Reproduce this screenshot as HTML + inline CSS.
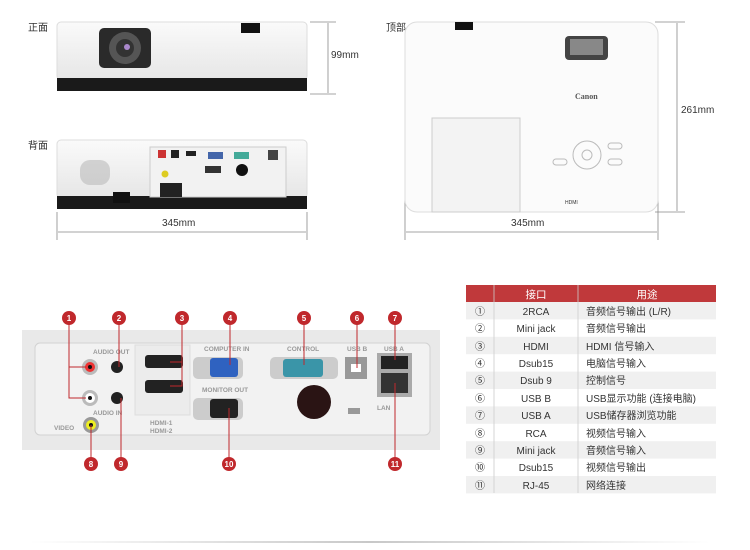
<!DOCTYPE html>
<html><head><meta charset="utf-8"><style>
html,body{margin:0;padding:0;background:#fff;}
svg{display:block;font-family:"Liberation Sans","Noto Sans CJK SC",sans-serif;}
</style></head><body>
<svg width="750" height="550" viewBox="0 0 750 550" xmlns="http://www.w3.org/2000/svg">
<defs>
<linearGradient id="wg" x1="0" y1="0" x2="0" y2="1"><stop offset="0" stop-color="#fafafa"/><stop offset="1" stop-color="#e6e6e6"/></linearGradient>
<linearGradient id="bl" x1="0" x2="1"><stop offset="0" stop-color="#fff"/><stop offset="0.5" stop-color="#c8c8c8"/><stop offset="1" stop-color="#fff"/></linearGradient>
</defs>
<g font-size="10" fill="#333">
<text x="28" y="31">正面</text><text x="28" y="149">背面</text><text x="386" y="31">顶部</text>
</g>
<!-- front -->
<rect x="57" y="22" width="250" height="58" rx="4" fill="url(#wg)" stroke="#ddd"/>
<rect x="57" y="78" width="250" height="13" fill="#1a1a1a"/>
<rect x="99" y="28" width="52" height="40" rx="5" fill="#2a2a2a"/>
<circle cx="125" cy="48" r="16" fill="#555"/><circle cx="125" cy="48" r="9" fill="#333"/><circle cx="127" cy="47" r="3" fill="#a8c"/>
<rect x="241" y="23" width="19" height="10" fill="#111"/>
<!-- dims front -->
<g stroke="#888" stroke-width="0.8" fill="none">
<line x1="310" y1="22" x2="336" y2="22"/><line x1="310" y1="94" x2="336" y2="94"/><line x1="328" y1="23" x2="328" y2="93"/>
<line x1="57" y1="212" x2="57" y2="240"/><line x1="307" y1="212" x2="307" y2="240"/><line x1="58" y1="232" x2="306" y2="232"/>
<line x1="405" y1="195" x2="405" y2="240"/><line x1="658" y1="195" x2="658" y2="240"/><line x1="406" y1="232" x2="657" y2="232"/>
<line x1="655" y1="22" x2="685" y2="22"/><line x1="655" y1="212" x2="685" y2="212"/><line x1="677" y1="23" x2="677" y2="211"/>
</g>
<g fill="#333" font-size="10"><text x="331" y="58">99mm</text><text x="162" y="226">345mm</text><text x="511" y="226">345mm</text><text x="681" y="113">261mm</text></g>
<!-- back -->
<rect x="57" y="140" width="250" height="58" rx="4" fill="url(#wg)" stroke="#ddd"/>
<rect x="57" y="196" width="250" height="13" fill="#1a1a1a"/>
<rect x="150" y="147" width="136" height="50" fill="#f2f2f2" stroke="#ccc"/>
<rect x="80" y="160" width="30" height="25" rx="10" fill="#bbb" opacity="0.6"/>
<rect x="158" y="150" width="8" height="8" fill="#c33"/><rect x="171" y="150" width="8" height="8" fill="#222"/><rect x="186" y="151" width="10" height="5" fill="#222"/><rect x="208" y="152" width="15" height="7" fill="#46a"/><rect x="234" y="152" width="15" height="7" fill="#4a9"/><rect x="268" y="150" width="10" height="10" fill="#444"/>
<circle cx="242" cy="170" r="6" fill="#111"/><rect x="205" y="166" width="16" height="7" fill="#333"/><circle cx="165" cy="174" r="3.5" fill="#dc2"/>
<rect x="160" y="183" width="22" height="14" fill="#222"/><rect x="113" y="192" width="17" height="11" fill="#111"/>
<!-- top -->
<rect x="405" y="22" width="253" height="190" rx="12" fill="#fbfbfb" stroke="#ddd"/>
<rect x="455" y="22" width="18" height="8" fill="#111"/>
<rect x="565" y="36" width="43" height="24" rx="4" fill="#444"/><rect x="570" y="39" width="33" height="16" fill="#888"/>
<text x="575" y="99" font-size="8" font-weight="bold" fill="#555" font-family="Liberation Serif,serif">Canon</text>
<rect x="432" y="118" width="88" height="94" fill="#f3f3f3" stroke="#ccc"/>
<circle cx="587" cy="155" r="14" fill="none" stroke="#bbb"/><circle cx="587" cy="155" r="5" fill="none" stroke="#bbb"/>
<rect x="553" y="159" width="14" height="6" rx="3" fill="none" stroke="#bbb"/><rect x="608" y="159" width="14" height="6" rx="3" fill="none" stroke="#bbb"/><rect x="608" y="143" width="14" height="6" rx="3" fill="none" stroke="#bbb"/>
<text x="565" y="204" font-size="5" fill="#333">HDMI</text>
<!-- port photo -->
<rect x="22" y="330" width="418" height="120" fill="#e9e9e9"/>
<rect x="35" y="343" width="395" height="92" rx="5" fill="#f2f2f2" stroke="#d2d2d2"/>
<rect x="135" y="345" width="55" height="70" fill="#ececec" stroke="#ddd"/>
<circle cx="90" cy="367" r="8" fill="#bbb"/><circle cx="90" cy="367" r="5" fill="#e33"/><circle cx="90" cy="367" r="2" fill="#111"/>
<circle cx="90" cy="398" r="8" fill="#bbb"/><circle cx="90" cy="398" r="5" fill="#fff"/><circle cx="90" cy="398" r="2" fill="#111"/>
<circle cx="91" cy="425" r="8" fill="#999"/><circle cx="91" cy="425" r="5" fill="#ee2"/><circle cx="91" cy="425" r="2" fill="#111"/>
<circle cx="117" cy="367" r="6" fill="#222"/><circle cx="117" cy="398" r="6" fill="#222"/>
<rect x="145" y="355" width="38" height="13" rx="3" fill="#222"/><rect x="145" y="380" width="38" height="13" rx="3" fill="#222"/>
<rect x="193" y="357" width="50" height="22" rx="5" fill="#ccc"/><rect x="210" y="358" width="28" height="19" rx="3" fill="#2f62c0"/>
<rect x="193" y="398" width="50" height="22" rx="5" fill="#ccc"/><rect x="210" y="399" width="28" height="19" rx="3" fill="#222"/>
<rect x="270" y="357" width="68" height="22" rx="5" fill="#ccc"/><rect x="283" y="359" width="40" height="18" rx="3" fill="#3a95a8"/>
<rect x="345" y="357" width="22" height="22" fill="#999"/><rect x="351" y="364" width="10" height="8" fill="#fff"/>
<rect x="377" y="353" width="35" height="44" fill="#aaa"/><rect x="381" y="356" width="27" height="13" fill="#222"/><rect x="381" y="373" width="27" height="20" fill="#333"/>
<circle cx="314" cy="402" r="17" fill="#2a1414"/><rect x="348" y="408" width="12" height="6" fill="#999"/>
<g font-size="6.5" font-weight="bold" fill="#999">
<text x="93" y="354">AUDIO OUT</text><text x="93" y="415">AUDIO IN</text><text x="54" y="430">VIDEO</text><text x="150" y="425">HDMI-1</text><text x="150" y="433">HDMI-2</text>
<text x="204" y="351">COMPUTER IN</text><text x="202" y="392">MONITOR OUT</text><text x="287" y="351">CONTROL</text><text x="347" y="351">USB B</text><text x="384" y="351">USB A</text><text x="377" y="410">LAN</text></g>
<g stroke="#c0282c" stroke-width="1" fill="none">
<polyline points="69,318 69,367 86,367"/><polyline points="69,367 69,398 86,398"/>
<line x1="119" y1="318" x2="119" y2="367"/><polyline points="182,318 182,362 170,362"/><polyline points="182,362 182,386 170,386"/>
<line x1="230" y1="318" x2="230" y2="365"/><line x1="304" y1="318" x2="304" y2="365"/><line x1="357" y1="318" x2="357" y2="368"/><line x1="395" y1="318" x2="395" y2="360"/>
<line x1="91" y1="425" x2="91" y2="464"/><line x1="121" y1="398" x2="121" y2="464"/><line x1="229" y1="408" x2="229" y2="464"/><line x1="395" y1="383" x2="395" y2="464"/>
</g>
<g fill="#c0282c"><circle cx="69" cy="318" r="7"/><circle cx="119" cy="318" r="7"/><circle cx="182" cy="318" r="7"/><circle cx="230" cy="318" r="7"/><circle cx="304" cy="318" r="7"/><circle cx="357" cy="318" r="7"/><circle cx="395" cy="318" r="7"/><circle cx="91" cy="464" r="7"/><circle cx="121" cy="464" r="7"/><circle cx="229" cy="464" r="7"/><circle cx="395" cy="464" r="7"/></g>
<g fill="#fff" font-size="8" font-weight="bold" text-anchor="middle"><text x="69" y="321">1</text><text x="119" y="321">2</text><text x="182" y="321">3</text><text x="230" y="321">4</text><text x="304" y="321">5</text><text x="357" y="321">6</text><text x="395" y="321">7</text><text x="91" y="467">8</text><text x="121" y="467">9</text><text x="229" y="467">10</text><text x="395" y="467">11</text></g>
<!-- table -->
<rect x="466" y="285" width="250" height="17" fill="#c0393b"/>
<g fill="#f0f0f0"><rect x="466" y="302" width="250" height="17.4"/><rect x="466" y="336.8" width="250" height="17.4"/><rect x="466" y="371.6" width="250" height="17.4"/><rect x="466" y="406.4" width="250" height="17.4"/><rect x="466" y="441.2" width="250" height="17.4"/><rect x="466" y="476" width="250" height="17.4"/></g>
<g stroke="#ccc" stroke-width="0.8"><line x1="494" y1="285" x2="494" y2="493"/><line x1="578" y1="285" x2="578" y2="493"/></g>
<g fill="#fff" font-size="10.5" text-anchor="middle"><text x="536" y="298">接口</text><text x="647" y="298">用途</text></g>
<g font-size="10" fill="#333">
<g text-anchor="middle"><text x="480" y="315">①</text><text x="480" y="332">②</text><text x="480" y="350">③</text><text x="480" y="367">④</text><text x="480" y="384">⑤</text><text x="480" y="402">⑥</text><text x="480" y="419">⑦</text><text x="480" y="437">⑧</text><text x="480" y="454">⑨</text><text x="480" y="471">⑩</text><text x="480" y="489">⑪</text>
<text x="536" y="315">2RCA</text><text x="536" y="332">Mini jack</text><text x="536" y="350">HDMI</text><text x="536" y="367">Dsub15</text><text x="536" y="384">Dsub 9</text><text x="536" y="402">USB B</text><text x="536" y="419">USB A</text><text x="536" y="437">RCA</text><text x="536" y="454">Mini jack</text><text x="536" y="471">Dsub15</text><text x="536" y="489">RJ-45</text></g>
<text x="586" y="315">音频信号输出 (L/R)</text><text x="586" y="332">音频信号输出</text><text x="586" y="350">HDMI 信号输入</text><text x="586" y="367">电脑信号输入</text><text x="586" y="384">控制信号</text><text x="586" y="402">USB显示功能 (连接电脑)</text><text x="586" y="419">USB储存器浏览功能</text><text x="586" y="437">视频信号输入</text><text x="586" y="454">音频信号输入</text><text x="586" y="471">视频信号输出</text><text x="586" y="489">网络连接</text>
</g>
<rect x="30" y="541" width="680" height="2" fill="url(#bl)"/>
</svg>
</body></html>
